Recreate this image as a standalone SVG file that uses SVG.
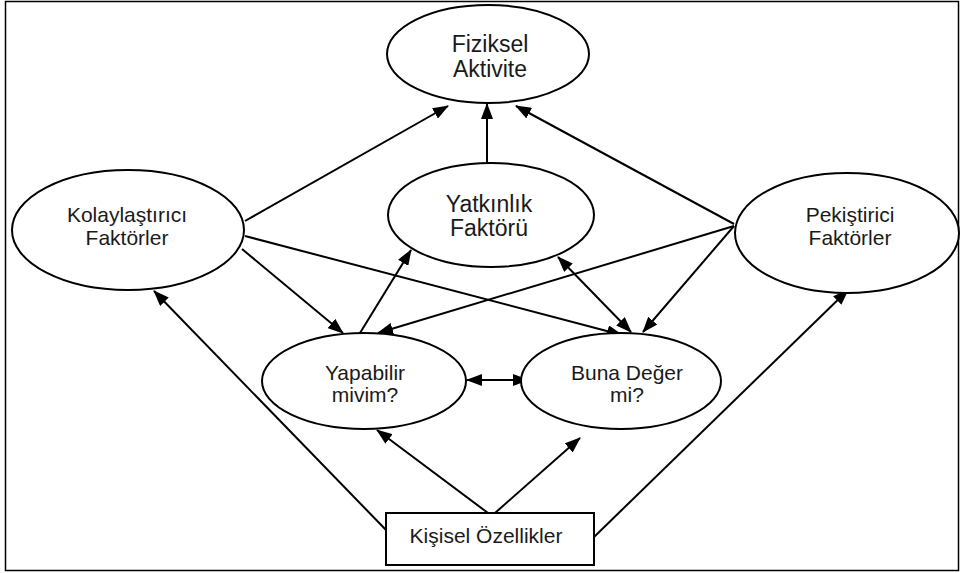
<svg xmlns="http://www.w3.org/2000/svg" width="962" height="573" viewBox="0 0 962 573">
<style>
.node{fill:#fff;stroke:#000;stroke-width:2}
.lbl{font-family:"Liberation Sans",Arial,sans-serif;font-size:21px;fill:#1a1a1a;text-anchor:middle}
.big{font-size:23px}
.c{stroke:#000;stroke-width:2;fill:none}
</style>
<defs>
<marker id="ah" markerUnits="userSpaceOnUse" markerWidth="16" markerHeight="12" refX="15" refY="6" orient="auto-start-reverse" viewBox="0 0 16 12">
<path d="M0,0 L16,6 L0,12 z" fill="#000"/>
</marker>
</defs>
<rect x="5.5" y="1.5" width="953" height="569" fill="#fff" stroke="#000" stroke-width="1.5"/>
<g id="connectors">
<line class="c" x1="487" y1="163" x2="487" y2="104" marker-end="url(#ah)"/>
<line class="c" x1="245" y1="221" x2="448" y2="106" marker-end="url(#ah)"/>
<line class="c" x1="734" y1="224" x2="516" y2="106" marker-end="url(#ah)"/>
<line class="c" x1="242" y1="249" x2="343" y2="333" marker-end="url(#ah)"/>
<line class="c" x1="245" y1="236" x2="622" y2="335" marker-end="url(#ah)"/>
<line class="c" x1="734" y1="226" x2="378" y2="333" marker-end="url(#ah)"/>
<line class="c" x1="734" y1="226" x2="643" y2="332" marker-end="url(#ah)"/>
<line class="c" x1="558" y1="257" x2="631" y2="332" marker-start="url(#ah)" marker-end="url(#ah)"/>
<line class="c" x1="360" y1="333" x2="411" y2="250" marker-end="url(#ah)"/>
<line class="c" x1="467" y1="380" x2="528" y2="380" marker-start="url(#ah)" marker-end="url(#ah)"/>
<line class="c" x1="387" y1="531" x2="154" y2="291" marker-end="url(#ah)"/>
<line class="c" x1="488" y1="513" x2="377" y2="430" marker-end="url(#ah)"/>
<line class="c" x1="495" y1="513" x2="580" y2="438" marker-end="url(#ah)"/>
<line class="c" x1="594" y1="537" x2="848" y2="290" marker-end="url(#ah)"/>
</g>
<g id="fiziksel">
<ellipse class="node" cx="488" cy="54" rx="101" ry="49"/>
<text class="lbl big" x="490" y="52">Fiziksel</text>
<text class="lbl big" x="490" y="77">Aktivite</text>
</g>
<g id="yatkinlik">
<ellipse class="node" cx="491" cy="215" rx="103" ry="52"/>
<text class="lbl big" x="489" y="212">Yatkınlık</text>
<text class="lbl big" x="489" y="236">Faktörü</text>
</g>
<g id="kolaylastirici">
<ellipse class="node" cx="128" cy="230" rx="116" ry="60"/>
<text class="lbl" x="127" y="222">Kolaylaştırıcı</text>
<text class="lbl" x="127" y="245">Faktörler</text>
</g>
<g id="pekistirici">
<ellipse class="node" cx="847" cy="233" rx="112" ry="60"/>
<text class="lbl" x="850" y="222">Pekiştirici</text>
<text class="lbl" x="850" y="245">Faktörler</text>
</g>
<g id="yapabilir">
<ellipse class="node" cx="364" cy="381" rx="102" ry="48"/>
<text class="lbl" x="365" y="380">Yapabilir</text>
<text class="lbl" x="365" y="402">mivim?</text>
</g>
<g id="bunadeger">
<ellipse class="node" cx="621" cy="381" rx="100" ry="48"/>
<text class="lbl" x="627" y="380">Buna Değer</text>
<text class="lbl" x="627" y="402">mi?</text>
</g>
<g id="kisisel">
<rect class="node" x="386" y="513" width="208" height="52"/>
<text class="lbl" x="486" y="543">Kişisel Özellikler</text>
</g>
</svg>
